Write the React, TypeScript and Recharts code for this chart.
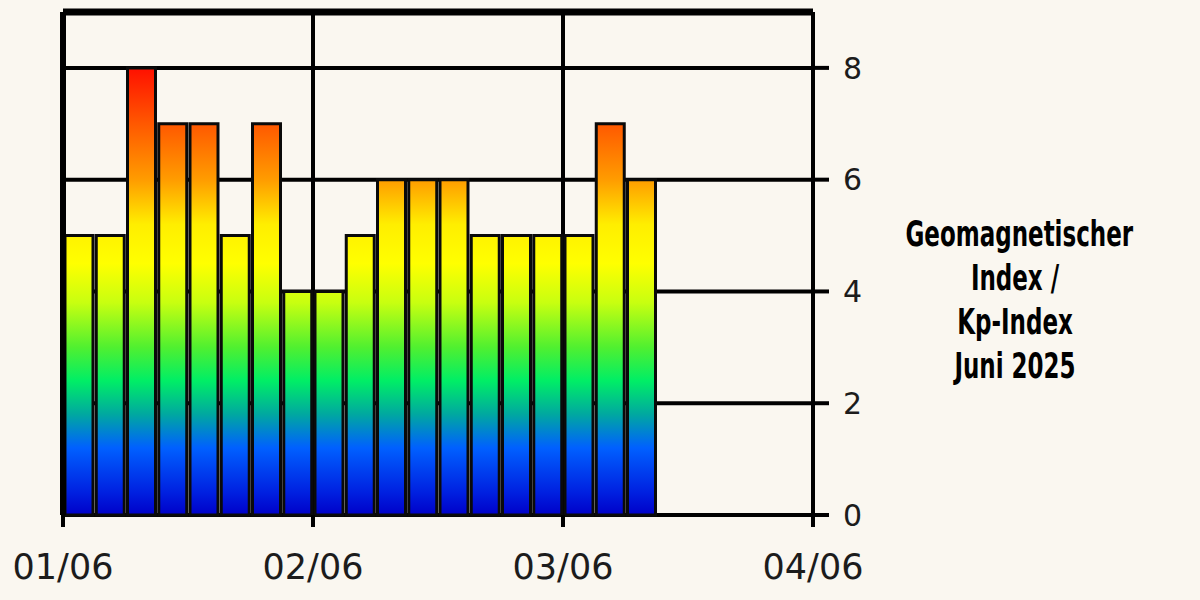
import { BarChart, Bar, XAxis, YAxis, CartesianGrid, ReferenceLine } from "recharts";

// Kp index per 3-hour slot, 01/06 00:00 onward
const kpValues = [5, 5, 8, 7, 7, 5, 7, 4, 4, 5, 6, 6, 6, 5, 5, 5, 5, 7, 6];
const dayLabels = ["01/06", "02/06", "03/06", "04/06"];
const dayTicks = [0, 8, 16, 24];
const kpTicks = [0, 2, 4, 6, 8];
const titleLines = ["Geomagnetischer", "Index /", "Kp-Index", "Juni 2025"];

const data = kpValues.map((kp, i) => ({ slot: i + 0.5, kp }));

const W = 1200;
const H = 600;
const margin = { top: 12, left: 63, right: 307, bottom: 25 };
const xAxisHeight = 60;
const yAxisWidth = 80;
const yMax = 9;

// gradient spans value 0..8 in screen space
const plotH = H - margin.top - margin.bottom - xAxisHeight;
const yOf = (v: number) => margin.top + plotH * (1 - v / yMax);

const stops: [number, string][] = [
  [8, "#ff1000"],
  [7, "#ff5800"],
  [6, "#ff9c00"],
  [5.2, "#ffee00"],
  [4.5, "#ffff00"],
  [3.8, "#c8ff10"],
  [3, "#50f030"],
  [2.4, "#00ee66"],
  [1.8, "#00a8a0"],
  [1.2, "#0060ff"],
  [0.4, "#0020e0"],
  [0, "#0000c8"],
];

const axisFont = { fontFamily: "DejaVu Sans, sans-serif", fill: "#1c1c1c" };

export default function App() {
  return (
    <div style={{ position: "fixed", left: 0, top: 0, width: W, height: H, background: "#faf7f0" }}>
      <BarChart width={W} height={H} data={data} margin={margin}>
        <defs>
          <linearGradient id="kpGrad" gradientUnits="userSpaceOnUse" x1="0" x2="0" y1={yOf(8)} y2={yOf(0)}>
            {stops.map(([v, c]) => (
              <stop key={v} offset={(8 - v) / 8} stopColor={c} />
            ))}
          </linearGradient>
        </defs>
        <CartesianGrid stroke="#000" strokeWidth={4} fill="none" />
        <ReferenceLine y={yMax} stroke="#000" strokeWidth={7} />
        <ReferenceLine x={0} stroke="#000" strokeWidth={6} />
        <ReferenceLine x={24} stroke="#000" strokeWidth={4} />
        <XAxis
          dataKey="slot"
          type="number"
          domain={[0, 24]}
          ticks={dayTicks}
          tickFormatter={(v: number) => dayLabels[dayTicks.indexOf(v)]}
          height={xAxisHeight}
          axisLine={false}
          tickLine={{ stroke: "#000", strokeWidth: 4 }}
          tickSize={12}
          tickMargin={27}
          tick={{ ...axisFont, fontSize: 35 }}
          interval={0}
          allowDataOverflow
        />
        <YAxis
          orientation="right"
          type="number"
          domain={[0, yMax]}
          ticks={kpTicks}
          width={yAxisWidth}
          axisLine={false}
          tickLine={{ stroke: "#000", strokeWidth: 4 }}
          tickSize={16}
          tickMargin={14}
          tick={{ ...axisFont, fontSize: 30, textAnchor: "start" }}
          interval={0}
        />
        <Bar dataKey="kp" fill="url(#kpGrad)" stroke="#0a0a0a" strokeWidth={3} barSize={28} isAnimationActive={false} />
      </BarChart>
      <div
        style={{
          position: "absolute",
          left: 870,
          top: 212,
          width: 300,
          textAlign: "center",
          fontFamily: "DejaVu Sans, sans-serif",
          fontStretch: "condensed",
          fontWeight: 700,
          fontSize: 35,
          lineHeight: "44px",
          color: "#000",
          transform: "scaleX(0.73)",
          transformOrigin: "150px 0",
          marginLeft: -5,
        }}
      >
        {titleLines.map((t) => (
          <div key={t}>{t}</div>
        ))}
      </div>
    </div>
  );
}
